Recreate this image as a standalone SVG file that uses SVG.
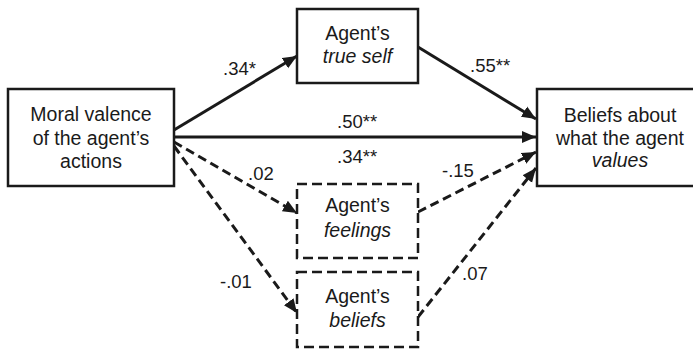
<svg xmlns="http://www.w3.org/2000/svg" width="693" height="349" viewBox="0 0 693 349">
<defs>
<marker id="ah" markerUnits="userSpaceOnUse" markerWidth="16" markerHeight="14" viewBox="0 0 16 14" refX="14" refY="7" orient="auto">
<path d="M0,1 L14,7 L0,13 Z" fill="#1a1a1a"/>
</marker>
</defs>
<style>
.box{fill:#fff;stroke:#1a1a1a;stroke-width:2.5}
.dbox{fill:#fff;stroke:#1a1a1a;stroke-width:2.5;stroke-dasharray:10 5}
.ln{fill:none;stroke:#1a1a1a;stroke-width:3;marker-end:url(#ah)}
.dl{stroke-dasharray:9 5}
text{font-family:"Liberation Sans",Arial,sans-serif;fill:#1a1a1a}
.t{font-size:19.5px;text-anchor:middle}
.lb{font-size:18.5px}
.i{font-style:italic}
</style>
<g id="connectors">
<line class="ln" x1="174" y1="130" x2="297" y2="56"/>
<line class="ln" x1="418" y1="47" x2="536" y2="119"/>
<line class="ln" x1="174" y1="137" x2="536" y2="137"/>
<line class="ln dl" x1="174" y1="142" x2="297" y2="213"/>
<line class="ln dl" x1="174" y1="146" x2="297" y2="313"/>
<line class="ln dl" x1="418" y1="212" x2="536" y2="152"/>
<line class="ln dl" x1="418" y1="317" x2="536" y2="168"/>
<text class="lb" x="223" y="75">.34*</text>
<text class="lb" x="470" y="72">.55**</text>
<text class="lb" x="337" y="128">.50**</text>
<text class="lb" x="337" y="163">.34**</text>
<text class="lb" x="248" y="180">.02</text>
<text class="lb" x="442" y="177">-.15</text>
<text class="lb" x="220" y="288">-.01</text>
<text class="lb" x="462" y="280">.07</text>
</g>
<g id="moral">
<rect class="box" x="8" y="89" width="166" height="97"/>
<text class="t" x="91" y="121">Moral valence</text>
<text class="t" x="91" y="145">of the agent’s</text>
<text class="t" x="91" y="168">actions</text>
</g>
<g id="trueself">
<rect class="box" x="297" y="9" width="121" height="74"/>
<text class="t" x="357.5" y="40">Agent’s</text>
<text class="t i" x="357.5" y="63">true self</text>
</g>
<g id="values">
<rect class="box" x="537" y="89" width="170" height="97"/>
<text class="t" x="620" y="122">Beliefs about</text>
<text class="t" x="620" y="145">what the agent</text>
<text class="t i" x="620" y="167">values</text>
</g>
<g id="feelings">
<rect class="dbox" x="297" y="184" width="121" height="74"/>
<text class="t" x="357.5" y="212">Agent’s</text>
<text class="t i" x="357.5" y="237">feelings</text>
</g>
<g id="beliefs">
<rect class="dbox" x="297" y="272" width="121" height="75"/>
<text class="t" x="357.5" y="303">Agent’s</text>
<text class="t i" x="357.5" y="327">beliefs</text>
</g>
</svg>
